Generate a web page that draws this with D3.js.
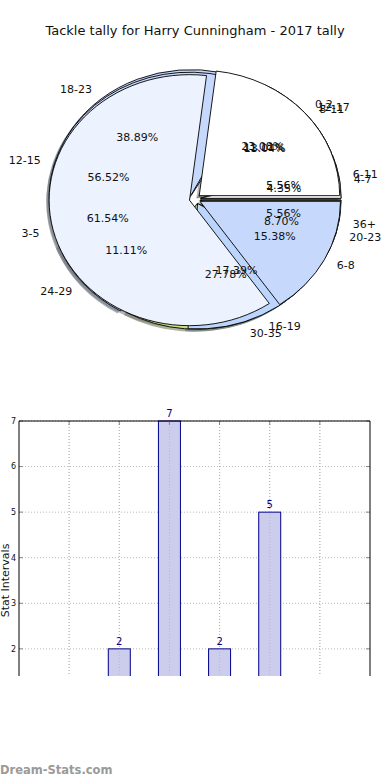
<!DOCTYPE html>
<html><head><meta charset="utf-8">
<script src="https://cdn.jsdelivr.net/npm/d3@7"></script>
<style>body{margin:0;background:#fff}svg{display:block}text{font-family:"DejaVu Sans",sans-serif}</style>
</head><body>
<svg id="c" width="390" height="780"></svg>
<script>
const title = "Tackle tally for Harry Cunningham - 2017 tally";
// three interval groupings of the same tally (drawn bottom to top)
const labels6 = ["6-11","12-17","18-23","24-29","30-35","36+"];
const values6 = [1,2,7,2,5,1];
const labels4 = ["4-7","8-11","12-15","16-19","20-23"];
const values4 = [1,3,13,4,2];
const labels3 = ["0-2","3-5","6-8"];
const values3 = [3,8,2];
const palette = ["#ffffff","#ecf2fe","#c6d9fd","#bcd5fc","#c8e07e","#a9c6f6"];
// bar chart
const barCats = [1,2,3,4,5,6];
const barValues = values6;
const yTicks = [1,2,3,4,5,6,7];
const yLabel = "Stat Intervals";
const watermark = "Dream-Stats.com";

const svg = d3.select("#c");
svg.append("text").attr("x",195).attr("y",35).attr("text-anchor","middle")
  .attr("font-size",13).attr("fill","#111").text(title);

const cx=195, cy=199, rx=140.5, ry=125.5, explode=0.04;
const arc = d3.arc().innerRadius(0).outerRadius(1);
const pie = d3.pie().sort(null).startAngle(Math.PI/2).endAngle(Math.PI/2-2*Math.PI);
const tr = `translate(${cx},${cy}) scale(${rx},${ry})`;
const shadowLayer = svg.append("g").attr("transform",tr);
const wedgeLayer = svg.append("g").attr("transform",tr);
const textLayer = svg.append("g");

function drawPie(labels, values){
  const total = d3.sum(values);
  const arcs = pie(values);
  arcs.forEach((d,i)=>{
    const m=(d.startAngle+d.endAngle)/2;
    const sx=Math.sin(m), sy=-Math.cos(m);
    const ex=sx*explode, ey=sy*explode;
    shadowLayer.append("path").attr("d",arc(d))
      .attr("transform",`translate(${ex-0.02},${ey+0.02})`)
      .attr("fill",d3.color(palette[i%palette.length]).darker(2.2)).attr("fill-opacity",0.5);
    wedgeLayer.append("path").attr("d",arc(d))
      .attr("transform",`translate(${ex},${ey})`)
      .attr("fill",palette[i%palette.length]).attr("stroke","#000")
      .attr("stroke-width",0.9).attr("vector-effect","non-scaling-stroke");
    const lx=cx+rx*(1.1+explode)*sx, ly=cy+ry*(1.1+explode)*sy;
    textLayer.append("text").attr("x",lx).attr("y",ly).attr("dy","0.35em")
      .attr("text-anchor", sx>=0?"start":"end").attr("font-size",11).attr("fill","#111")
      .text(labels[i]);
    const px=cx+rx*(0.6+explode)*sx, py=cy+ry*(0.6+explode)*sy;
    textLayer.append("text").attr("x",px).attr("y",py).attr("dy","0.35em")
      .attr("text-anchor","middle").attr("font-size",11).attr("fill","#111")
      .text((values[i]/total*100).toFixed(2)+"%");
  });
}
drawPie(labels6, values6);
drawPie(labels4, values4);
drawPie(labels3, values3);

// bar chart
const x = d3.scaleLinear().domain([0,7]).range([19,370]);
const y = d3.scaleLinear().domain([0,7]).range([740,421]);
const clipBottom = 676;
svg.append("clipPath").attr("id","clip").append("rect")
  .attr("x",0).attr("y",400).attr("width",390).attr("height",clipBottom-400);
const bg = svg.append("g").attr("clip-path","url(#clip)");
bg.selectAll(".gx").data(d3.range(1,7)).join("line")
  .attr("x1",d=>x(d)).attr("x2",d=>x(d)).attr("y1",y(7)).attr("y2",y(0))
  .attr("stroke","#b8b8b8").attr("stroke-dasharray","1,2");
bg.selectAll(".gy").data(yTicks).join("line")
  .attr("x1",x(0)).attr("x2",x(7)).attr("y1",d=>y(d)).attr("y2",d=>y(d))
  .attr("stroke","#b8b8b8").attr("stroke-dasharray","1,2");
bg.selectAll(".bar").data(barValues).join("rect")
  .attr("x",(d,i)=>x(barCats[i])-11).attr("width",22)
  .attr("y",d=>y(d)).attr("height",d=>y(0)-y(d))
  .attr("fill","#ccccec").attr("stroke","#00008b").attr("stroke-width",1);
bg.selectAll(".gx2").data(d3.range(1,7)).join("line")
  .attr("x1",d=>x(d)).attr("x2",d=>x(d)).attr("y1",y(7)).attr("y2",y(0))
  .attr("stroke","#a8a8b8").attr("stroke-dasharray","1,2").attr("stroke-opacity",0.6);
bg.selectAll(".lbl").data(barValues).join("text")
  .attr("x",(d,i)=>x(barCats[i])).attr("y",d=>y(d)-4)
  .attr("text-anchor","middle").attr("font-size",10).attr("fill","#00008b")
  .text(d=>d);
bg.selectAll(".tl").data(yTicks).join("line")
  .attr("x1",x(0)).attr("x2",x(0)+4).attr("y1",d=>y(d)).attr("y2",d=>y(d)).attr("stroke","#888");
bg.selectAll(".tr").data(yTicks).join("line")
  .attr("x1",x(7)-4).attr("x2",x(7)).attr("y1",d=>y(d)).attr("y2",d=>y(d)).attr("stroke","#888");
bg.selectAll(".tt").data(d3.range(1,7)).join("line")
  .attr("x1",d=>x(d)).attr("x2",d=>x(d)).attr("y1",y(7)).attr("y2",y(7)+4).attr("stroke","#888");
bg.selectAll(".yt").data(yTicks).join("text")
  .attr("x",x(0)-3).attr("y",d=>y(d)).attr("dy","0.35em").attr("text-anchor","end")
  .attr("font-size",8).attr("fill","#111").text(d=>d);
bg.append("line").attr("x1",x(0)).attr("x2",x(0)).attr("y1",y(7)).attr("y2",y(0)).attr("stroke","#000");
bg.append("line").attr("x1",x(7)).attr("x2",x(7)).attr("y1",y(7)).attr("y2",y(0)).attr("stroke","#000");
bg.append("line").attr("x1",x(0)).attr("x2",x(7)).attr("y1",y(7)).attr("y2",y(7)).attr("stroke","#000");
bg.append("text").attr("transform",`translate(9,${(y(0)+y(7))/2}) rotate(-90)`)
  .attr("text-anchor","middle").attr("font-size",11).attr("fill","#111").text(yLabel);

svg.append("text").attr("x",0).attr("y",774).attr("font-size",11.5)
  .attr("fill","#9a9a9a").attr("font-family","'Open Sans',sans-serif").attr("font-weight",600).text(watermark);
</script>
</body></html>
